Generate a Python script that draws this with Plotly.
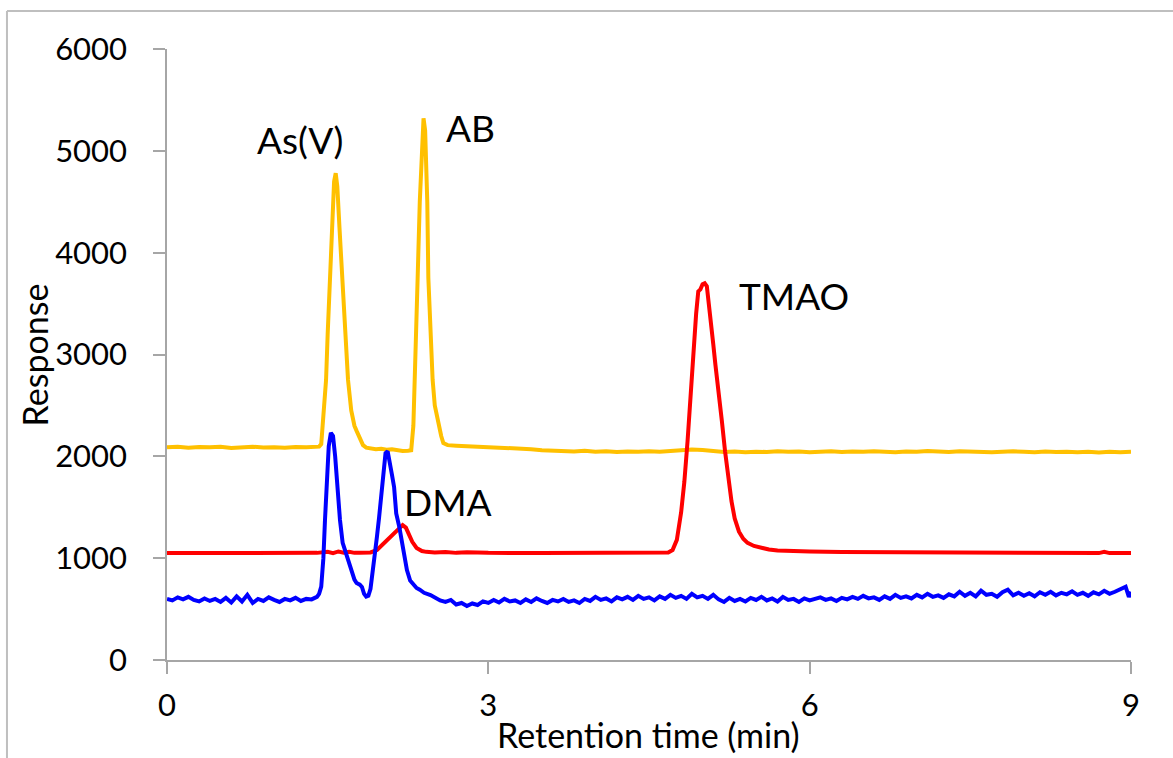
import plotly.graph_objects as go

# Retention times (min) and detector response for each arsenic standard trace

# Yellow trace: As(V) and AB
t_yellow = [0.00, 0.10, 0.20, 0.30, 0.40, 0.50, 0.60, 0.70, 0.80, 0.90, 1.00, 1.10, 1.20, 1.30, 1.38,
            1.42, 1.44, 1.46, 1.485, 1.50, 1.52, 1.54, 1.56, 1.575, 1.59, 1.61, 1.64, 1.67, 1.69,
            1.72, 1.75, 1.77, 1.80, 1.83, 1.86, 1.90, 1.95, 2.00, 2.05, 2.10, 2.15, 2.20, 2.25, 2.28,
            2.30, 2.31, 2.33, 2.34, 2.36, 2.38, 2.395, 2.41, 2.43, 2.44, 2.46, 2.48, 2.50, 2.53,
            2.56, 2.58, 2.62, 2.70, 2.80, 2.90, 3.00, 3.10, 3.20, 3.30, 3.40, 3.50, 3.60, 3.70,
            3.80, 3.90, 4.00, 4.10, 4.20, 4.30, 4.40, 4.50, 4.60, 4.70, 4.80, 4.90, 5.00, 5.10,
            5.20, 5.30, 5.40, 5.50, 5.60, 5.70, 5.80, 5.90, 6.00, 6.10, 6.20, 6.30, 6.40, 6.50,
            6.60, 6.70, 6.80, 6.90, 7.00, 7.10, 7.20, 7.30, 7.40, 7.50, 7.60, 7.70, 7.80, 7.90,
            8.00, 8.10, 8.20, 8.30, 8.40, 8.50, 8.60, 8.70, 8.80, 8.90, 9.00]
resp_yellow = [2090, 2095, 2085, 2092, 2088, 2095, 2083, 2090, 2094, 2086, 2090, 2084, 2092, 2088, 2090,
               2095, 2120, 2400, 2750, 3200, 3730, 4300, 4700, 4780, 4650, 4250, 3730, 3150, 2750,
               2450, 2300, 2250, 2170, 2110, 2085, 2078, 2070, 2075, 2065, 2070, 2058, 2052, 2055, 2060,
               2300, 2750, 3400, 3750, 4500, 5100, 5320, 5200, 4500, 3750, 3200, 2750, 2500, 2330,
               2200, 2130, 2110, 2105, 2100, 2095, 2098, 2088, 2080, 2075, 2070, 2060, 2055, 2052,
               2048, 2055, 2045, 2050, 2042, 2048, 2044, 2050, 2045, 2052, 2058, 2068, 2062, 2050,
               2042, 2048, 2040, 2046, 2042, 2050, 2044, 2048, 2040, 2046, 2050, 2042, 2048, 2044,
               2050, 2046, 2040, 2048, 2044, 2052, 2046, 2042, 2050, 2045, 2048, 2040, 2046, 2050,
               2044, 2040, 2048, 2042, 2046, 2040, 2044, 2038, 2046, 2040, 2045]

# Red trace: DMA and TMAO
t_red = [0.00, 0.50, 1.00, 1.40, 1.50, 1.55, 1.60, 1.65, 1.70, 1.75, 1.80, 1.90, 1.96, 2.00,
         2.04, 2.08, 2.11, 2.14, 2.17, 2.20, 2.23, 2.26, 2.29, 2.33, 2.38, 2.42, 2.50, 2.60,
         2.70, 2.80, 3.00, 3.50, 4.00, 4.50, 4.60, 4.68, 4.72, 4.76, 4.80, 4.83, 4.86, 4.88,
         4.90, 4.92, 4.94, 4.96, 4.98, 5.00, 5.02, 5.04, 5.06, 5.08, 5.10, 5.12, 5.15, 5.18,
         5.21, 5.24, 5.27, 5.30, 5.34, 5.38, 5.42, 5.48, 5.55, 5.62, 5.70, 5.80, 5.90, 6.00,
         6.30, 6.60, 7.00, 7.50, 8.00, 8.50, 8.70, 8.75, 8.80, 9.00]
resp_red = [1050, 1050, 1052, 1052, 1062, 1050, 1066, 1054, 1062, 1052, 1052, 1056, 1080, 1120,
            1160, 1200, 1230, 1260, 1300, 1325, 1300, 1230, 1160, 1100, 1070, 1062, 1055, 1060,
            1052, 1058, 1052, 1050, 1050, 1050, 1050, 1055, 1080, 1180, 1450, 1750, 2150, 2500,
            2750, 3100, 3400, 3620, 3640, 3690, 3700, 3670, 3500, 3300, 3100, 2900, 2650, 2350,
            2050, 1800, 1560, 1390, 1260, 1190, 1150, 1120, 1100, 1085, 1075, 1070, 1068, 1065,
            1060, 1058, 1055, 1053, 1052, 1050, 1050, 1062, 1050, 1050]

# Blue trace: As(V) and DMA co-elution region
t_blue = [0.00, 0.05, 0.10, 0.15, 0.20, 0.25, 0.30, 0.35, 0.40, 0.45, 0.50, 0.55, 0.60, 0.65,
          0.70, 0.75, 0.80, 0.85, 0.90, 0.95, 1.00, 1.05, 1.10, 1.15, 1.20, 1.25, 1.30, 1.35,
          1.40, 1.42, 1.44, 1.46, 1.475, 1.49, 1.51, 1.53, 1.55, 1.57, 1.59, 1.615, 1.64, 1.67,
          1.69, 1.72, 1.75, 1.77, 1.80, 1.82, 1.84, 1.86, 1.88, 1.90, 1.92, 1.94, 1.96, 1.98,
          2.00, 2.02, 2.04, 2.06, 2.08, 2.10, 2.12, 2.14, 2.17, 2.19, 2.22, 2.24, 2.27, 2.30,
          2.33, 2.36, 2.40, 2.46, 2.50, 2.55, 2.60, 2.65, 2.70, 2.75, 2.80, 2.85, 2.90, 2.95,
          3.00, 3.05, 3.10, 3.15, 3.20, 3.25, 3.30, 3.35, 3.40, 3.45, 3.50, 3.55, 3.60, 3.65,
          3.70, 3.75, 3.80, 3.85, 3.90, 3.95, 4.00, 4.05, 4.10, 4.15, 4.20, 4.25, 4.30, 4.35,
          4.40, 4.45, 4.50, 4.55, 4.60, 4.65, 4.70, 4.75, 4.80, 4.85, 4.90, 4.95, 5.00, 5.05,
          5.10, 5.15, 5.20, 5.25, 5.30, 5.35, 5.40, 5.45, 5.50, 5.55, 5.60, 5.65, 5.70, 5.75,
          5.80, 5.85, 5.90, 5.95, 6.00, 6.05, 6.10, 6.15, 6.20, 6.25, 6.30, 6.35, 6.40, 6.45,
          6.50, 6.55, 6.60, 6.65, 6.70, 6.75, 6.80, 6.85, 6.90, 6.95, 7.00, 7.05, 7.10, 7.15,
          7.20, 7.25, 7.30, 7.35, 7.40, 7.45, 7.50, 7.55, 7.60, 7.65, 7.70, 7.75, 7.80, 7.85,
          7.90, 7.95, 8.00, 8.05, 8.10, 8.15, 8.20, 8.25, 8.30, 8.35, 8.40, 8.45, 8.50, 8.55,
          8.60, 8.65, 8.70, 8.75, 8.80, 8.85, 8.90, 8.95, 8.98, 9.00]
resp_blue = [600, 585, 615, 595, 620, 590, 575, 605, 580, 600, 570, 610, 565, 625,
             575, 640, 560, 600, 580, 615, 590, 570, 600, 585, 610, 580, 600, 595,
             620, 650, 720, 1000, 1375, 1750, 2100, 2230, 2200, 2000, 1700, 1375, 1150, 1050,
             960, 880, 790, 756, 740, 717, 650, 622, 630, 700, 850, 1050, 1211, 1400,
             1604, 1850, 2030, 2050, 1950, 1820, 1700, 1440, 1300, 1179, 1020, 884, 780, 740,
             707, 690, 660, 638, 610, 585, 570, 590, 545, 560, 530, 555, 540, 575,
             560, 590, 565, 600, 575, 585, 560, 595, 570, 605, 580, 560, 590, 575,
             600, 570, 585, 560, 600, 580, 620, 590, 605, 575, 615, 595, 620, 590,
             630, 600, 615, 585, 625, 600, 640, 610, 630, 600, 650, 615, 630, 600,
             640, 595, 570, 610, 580, 600, 575, 610, 590, 620, 585, 605, 575, 620,
             590, 600, 570, 605, 585, 600, 615, 590, 605, 580, 610, 595, 620, 600,
             630, 605, 615, 590, 625, 600, 640, 610, 625, 605, 640, 615, 650, 620,
             635, 610, 645, 625, 670, 630, 660, 625, 680, 640, 650, 620, 665, 690,
             635, 660, 630, 655, 625, 665, 640, 670, 635, 660, 645, 675, 640, 660,
             630, 665, 645, 680, 650, 670, 690, 720, 620, 670]

# Peak labels: (text, retention time, response)
peak_labels = ["As(V)", "AB", "TMAO", "DMA"]
peak_label_x = [1.24, 2.83, 5.85, 2.62]
peak_label_y = [5110, 5230, 3580, 1560]

x_ticks = [0, 3, 6, 9]
y_ticks = [0, 1000, 2000, 3000, 4000, 5000, 6000]

FONT = "Lato, 'Open Sans', sans-serif"
AXIS_GREY = "#A6A6A6"
LINE_W = 4

fig = go.Figure()
fig.add_trace(go.Scatter(x=t_yellow, y=resp_yellow, mode="lines",
                         line=dict(color="#FFC000", width=LINE_W)))
fig.add_trace(go.Scatter(x=t_red, y=resp_red, mode="lines",
                         line=dict(color="#FF0000", width=LINE_W)))
fig.add_trace(go.Scatter(x=t_blue, y=resp_blue, mode="lines",
                         line=dict(color="#0000FF", width=LINE_W)))

for txt, px, py in zip(peak_labels, peak_label_x, peak_label_y):
    fig.add_annotation(x=px, y=py, text=txt, showarrow=False,
                       xanchor="center", yanchor="middle",
                       font=dict(family=FONT, size=37, color="#000000"))

# Axis titles placed as free text
fig.add_annotation(xref="paper", yref="paper", x=-0.137, y=0.5, text="Response",
                   textangle=-90, showarrow=False, xanchor="center", yanchor="middle",
                   font=dict(family=FONT, size=34, color="#000000"))
fig.add_annotation(xref="paper", yref="paper", x=0.499, y=-0.122, text="Retention time (min)",
                   showarrow=False, xanchor="center", yanchor="middle",
                   font=dict(family=FONT, size=34, color="#000000"))

# Chart area border (left and top edges)
fig.add_shape(type="line", xref="paper", yref="paper", x0=-0.166, x1=-0.166, y0=1.062, y1=-0.2,
              line=dict(color="#BFBFBF", width=2))
fig.add_shape(type="line", xref="paper", yref="paper", x0=-0.166, x1=1.06, y0=1.062, y1=1.062,
              line=dict(color="#BFBFBF", width=2))

fig.update_layout(
    width=1173, height=758,
    margin=dict(l=167, r=42, t=49, b=98),
    paper_bgcolor="white", plot_bgcolor="white",
    showlegend=False,
    font=dict(family=FONT, size=31, color="#000000"),
)
fig.update_xaxes(range=[0, 9], tickvals=x_ticks, ticks="outside", ticklen=12,
                 tickcolor=AXIS_GREY, tickwidth=1.5, showline=True, linecolor=AXIS_GREY,
                 linewidth=1.5, showgrid=False, zeroline=False, ticklabelstandoff=5,
                 tickfont=dict(family=FONT, size=31, color="#000000"))
fig.update_yaxes(range=[0, 6000], tickvals=y_ticks, ticks="outside", ticklen=12,
                 tickcolor=AXIS_GREY, tickwidth=1.5, showline=True, linecolor=AXIS_GREY,
                 linewidth=1.5, showgrid=False, zeroline=False, ticklabelstandoff=20,
                 tickfont=dict(family=FONT, size=31, color="#000000"))

fig.write_html("out.html")
